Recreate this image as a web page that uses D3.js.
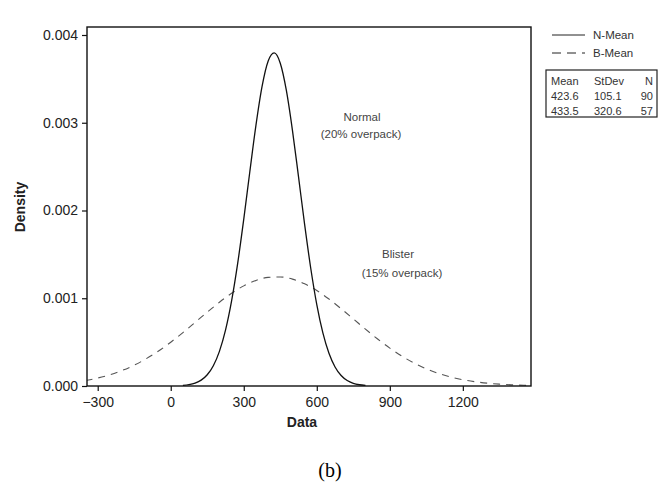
<!DOCTYPE html>
<html>
<head>
<meta charset="utf-8">
<script src="https://cdn.jsdelivr.net/npm/d3@7"></script>
<style>
	body{margin:0;background:#fff;}
	svg{display:block;font-family:"Liberation Sans",Arial,sans-serif;}
</style>
</head>
<body>
<svg id="chart" width="672" height="482"></svg>
<script>
// x ticks / y ticks
var xTicks = [-300, 0, 300, 600, 900, 1200];
var yTicks = [0, 0.001, 0.002, 0.003, 0.004];

// N-Mean curve
var nX = [50,75,100,125,150,175,200,225,250,275,300,325,350,375,400,425,450,475,500,525,550,575,600,625,650,675,700,725,750,775,800];
var nY = [0.0000069,0.0000155,0.0000332,0.0000671,0.0001282,0.0002314,0.0003949,0.0006367,0.0009701,0.001397,0.001901,0.0024445,0.00297,0.003411,0.003701,0.0037955,0.003678,0.003368,0.002914,0.002383,0.001842,0.001345,0.0009281,0.0006052,0.000373,0.0002172,0.0001195,0.0000621,0.0000306,0.0000142,0.0000062];

// B-Mean curve
var bX = [-350,-300,-250,-200,-150,-100,-50,0,50,100,150,200,250,300,350,400,450,500,550,600,650,700,750,800,850,900,950,1000,1050,1100,1150,1200,1250,1300,1350,1400,1450,1500];
var bY = [0.0000628,0.0000909,0.0001282,0.0001767,0.0002375,0.0003117,0.0003991,0.0004988,0.0006085,0.0007244,0.0008417,0.0009545,0.0010564,0.0011411,0.0012029,0.0012376,0.0012428,0.0012179,0.0011649,0.0010874,0.0009907,0.0008809,0.0007645,0.0006474,0.0005351,0.0004317,0.0003399,0.0002612,0.0001959,0.0001434,0.0001024,0.0000714,0.0000486,0.0000323,0.0000209,0.0000132,0.0000082,0.0000049];

// legend + stats table
var seriesNames = ['N-Mean', 'B-Mean'];
var statHead = ['Mean', 'StDev', 'N'];
var statRows = [['423.6', '105.1', '90'], ['433.5', '320.6', '57']];

var svg = d3.select('#chart');
var L = 87, R = 531, T = 27, B = 386;

var x = d3.scaleLinear().domain([-344, 1480]).range([L, R]);
var y = d3.scaleLinear().domain([0, 0.004]).range([B, 35]);

svg.append('clipPath').attr('id', 'clip')
	.append('rect').attr('x', L).attr('y', T).attr('width', R - L).attr('height', B - T);

var line = d3.line()
	.x(function(d){ return x(d[0]); })
	.y(function(d){ return y(d[1]); })
	.curve(d3.curveMonotoneX);

var g = svg.append('g').attr('clip-path', 'url(#clip)');

g.append('path')
	.attr('d', line(bX.map(function(v, i){ return [v, bY[i]]; })))
	.attr('fill', 'none')
	.attr('stroke', '#555')
	.attr('stroke-width', 1.1)
	.attr('stroke-dasharray', '7,6');

g.append('path')
	.attr('d', line(nX.map(function(v, i){ return [v, nY[i]]; })))
	.attr('fill', 'none')
	.attr('stroke', '#111')
	.attr('stroke-width', 1.3);

// axes
var xAxis = svg.append('g')
	.attr('transform', 'translate(0,' + B + ')')
	.call(d3.axisBottom(x).tickValues(xTicks).tickSize(5).tickSizeOuter(0).tickFormat(d3.format('d')));
var yAxis = svg.append('g')
	.attr('transform', 'translate(' + L + ',0)')
	.call(d3.axisLeft(y).tickValues(yTicks).tickSize(5).tickSizeOuter(0).tickFormat(d3.format('.3f')));

[xAxis, yAxis].forEach(function(a){
	a.select('.domain').remove();
	a.selectAll('line').attr('stroke', '#111').attr('stroke-width', 1.2);
	a.selectAll('text').attr('fill', '#222').style('font-size', '14px').style('font-family', '"Liberation Sans",Arial,sans-serif');
});
xAxis.selectAll('text').attr('y', 8).attr('dy', '0.9em');
yAxis.selectAll('text').attr('x', -9);

// frame
svg.append('rect')
	.attr('x', L).attr('y', T).attr('width', R - L).attr('height', B - T)
	.attr('fill', 'none').attr('stroke', '#111').attr('stroke-width', 1.4);

// axis titles
svg.append('text')
	.attr('x', 302).attr('y', 427)
	.attr('text-anchor', 'middle')
	.style('font-size', '14px').style('font-weight', 'bold').attr('fill', '#222')
	.text('Data');
svg.append('text')
	.attr('transform', 'translate(25,207) rotate(-90)')
	.attr('text-anchor', 'middle')
	.style('font-size', '14px').style('font-weight', 'bold').attr('fill', '#222')
	.text('Density');

// annotations
function note(tx, ty, s){
	svg.append('text')
		.attr('x', tx).attr('y', ty)
		.attr('text-anchor', 'middle')
		.style('font-size', '11.5px').attr('fill', '#444')
		.text(s);
}
note(362, 121, 'Normal');
note(361, 138, '(20% overpack)');
note(398, 258, 'Blister');
note(402, 277, '(15% overpack)');

// legend
seriesNames.forEach(function(s, i){
	var ly = 35 + i * 18;
	svg.append('line')
		.attr('x1', 552).attr('x2', 585).attr('y1', ly).attr('y2', ly)
		.attr('stroke', '#222').attr('stroke-width', 1)
		.attr('stroke-dasharray', i == 1 ? '9,6' : null);
	svg.append('text')
		.attr('x', 593).attr('y', ly + 4)
		.style('font-size', '11.5px').attr('fill', '#333')
		.text(s);
});

// stats box
svg.append('rect')
	.attr('x', 546).attr('y', 70).attr('width', 111).attr('height', 47)
	.attr('fill', 'none').attr('stroke', '#222').attr('stroke-width', 1.2);
var colX = [551, 594, 653];
var colAnchor = ['start', 'start', 'end'];
[statHead].concat(statRows).forEach(function(row, r){
	row.forEach(function(c, j){
		svg.append('text')
			.attr('x', colX[j]).attr('y', 85 + r * 15)
			.attr('text-anchor', colAnchor[j])
			.style('font-size', '11px').attr('fill', '#333')
			.text(c);
	});
});

// caption
svg.append('text')
	.attr('x', 330).attr('y', 477)
	.attr('text-anchor', 'middle')
	.style('font-family', '"Liberation Serif","Times New Roman",serif')
	.style('font-size', '20px').attr('fill', '#000')
	.text('(b)');
</script>
</body>
</html>
